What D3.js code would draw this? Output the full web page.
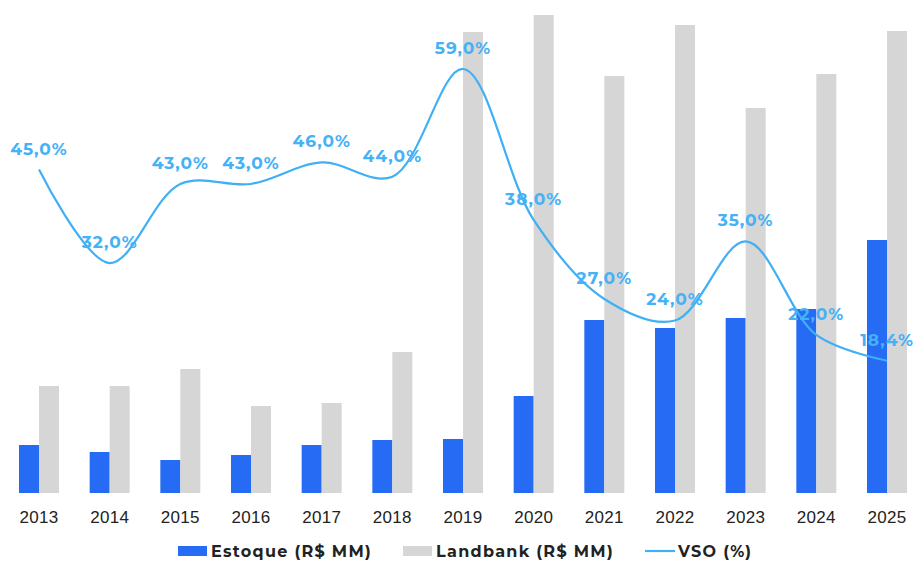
<!DOCTYPE html>
<html>
<head>
<meta charset="utf-8">
<script src="https://cdn.jsdelivr.net/npm/d3@7"></script>
<style>
  html, body { margin: 0; padding: 0; background: #fff; }
  svg { display: block; font-family: Montserrat, "DejaVu Sans", sans-serif; }
</style>
</head>
<body>
<div id="chart"></div>
<script>
const years = ['2013', '2014', '2015', '2016', '2017', '2018', '2019', '2020', '2021', '2022', '2023', '2024', '2025'];
const estoque = [480, 410, 330, 380, 480, 530, 540, 970, 1730, 1650, 1750, 1840, 2530];
const landbank = [1070, 1070, 1240, 870, 900, 1410, 4610, 4780, 4170, 4680, 3850, 4190, 4620];
const vso = [45, 32, 43, 43, 46, 44, 59, 38, 27, 24, 35, 22, 18.4];

const width = 914;
const height = 561;
const baseY = 493;

const svg = d3.select('#chart')
  .append('svg')
  .attr('width', width)
  .attr('height', height);

const x = d3.scaleBand()
  .domain(years)
  .range([3.67, 922.33])
  .paddingInner(0.434)
  .paddingOuter(0.217);

const half = x.bandwidth() / 2;

const yBar = d3.scaleLinear()
  .domain([0, 4780])
  .range([baseY, 15]);

const yLine = d3.scaleLinear()
  .domain([0, 68.6])
  .range([baseY, 0]);

// bars
const groups = svg.append('g')
  .selectAll('g')
  .data(years)
  .join('g')
  .attr('transform', d => 'translate(' + x(d) + ',0)');

groups.append('rect')
  .attr('x', 0)
  .attr('width', half)
  .attr('y', (d, i) => yBar(estoque[i]))
  .attr('height', (d, i) => baseY - yBar(estoque[i]))
  .attr('fill', '#256bf3');

groups.append('rect')
  .attr('x', half)
  .attr('width', half)
  .attr('y', (d, i) => yBar(landbank[i]))
  .attr('height', (d, i) => baseY - yBar(landbank[i]))
  .attr('fill', '#d6d6d6');

// x axis
const xAxis = d3.axisBottom(x).tickSize(0).tickPadding(0);
const axisG = svg.append('g')
  .attr('transform', 'translate(0,' + baseY + ')')
  .call(xAxis);
axisG.select('.domain').remove();
axisG.selectAll('text')
  .attr('y', 24)
  .attr('dy', '0.35em')
  .attr('fill', '#222')
  .style('font-size', '17px')
  .style('letter-spacing', '0.3px');

// VSO line
const cx = d => x(d) + half;
const line = d3.line()
  .x((d, i) => cx(years[i]))
  .y(d => yLine(d))
  .curve(d3.curveCatmullRom.alpha(0.5));

svg.append('path')
  .datum(vso)
  .attr('d', line)
  .attr('fill', 'none')
  .attr('stroke', '#3fb0f5')
  .attr('stroke-width', 2.2);

svg.append('g')
  .selectAll('text')
  .data(vso)
  .join('text')
  .attr('x', (d, i) => cx(years[i]))
  .attr('y', d => yLine(d) - 21)
  .attr('dy', '0.35em')
  .attr('text-anchor', 'middle')
  .attr('fill', '#45b1f6')
  .style('font-size', '17px')
  .style('font-weight', 'bold')
  .style('letter-spacing', '1px')
  .text(d => d.toFixed(1).replace('.', ',') + '%');

// legend
const legend = svg.append('g')
  .style('font-size', '16px')
  .style('font-weight', 'bold')
  .style('letter-spacing', '1.3px');
const legendItems = [
  {label: 'Estoque (R$ MM)', color: '#256bf3', type: 'rect', x: 178},
  {label: 'Landbank (R$ MM)', color: '#d6d6d6', type: 'rect', x: 403},
  {label: 'VSO (%)', color: '#3fb0f5', type: 'line', x: 645}
];
legendItems.forEach(item => {
  if (item.type === 'rect') {
    legend.append('rect')
      .attr('x', item.x)
      .attr('y', 546)
      .attr('width', 29)
      .attr('height', 10)
      .attr('fill', item.color);
  } else {
    legend.append('line')
      .attr('x1', item.x)
      .attr('x2', item.x + 30)
      .attr('y1', 551)
      .attr('y2', 551)
      .attr('stroke', item.color)
      .attr('stroke-width', 2.2);
  }
  legend.append('text')
    .attr('x', item.x + 33)
    .attr('y', 551)
    .attr('dy', '0.35em')
    .attr('fill', '#222')
    .text(item.label);
});
</script>
</body>
</html>
